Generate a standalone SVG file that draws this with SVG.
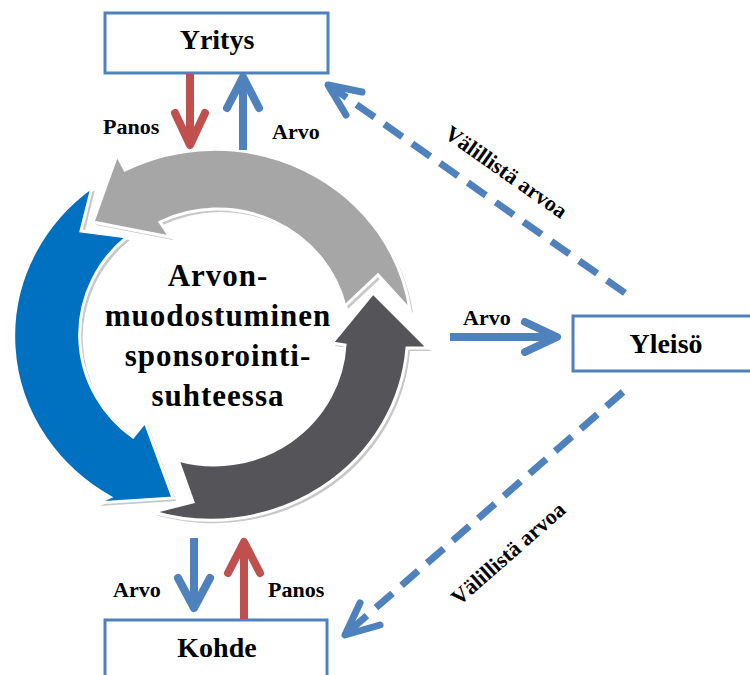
<svg xmlns="http://www.w3.org/2000/svg" xmlns:xlink="http://www.w3.org/1999/xlink" width="750" height="675" viewBox="0 0 750 675">
<style>
text{font-family:"Liberation Serif","Times New Roman",serif;font-weight:bold;fill:#000}
.box{fill:#fff;stroke:#4f81bd;stroke-width:3}
.lbl{font-size:22px}
.node{font-size:28px;text-anchor:middle}
.shaft{fill:none;stroke-width:8;stroke-linecap:butt}
.head{fill:none;stroke-width:8;stroke-linecap:round;stroke-linejoin:round}
.blue{stroke:#4f81bd}
.red{stroke:#c0504d}
.dash{fill:none;stroke:#4f81bd;stroke-width:7;stroke-dasharray:22 12}
.dhead{fill:none;stroke:#4f81bd;stroke-width:7;stroke-linecap:round;stroke-linejoin:round}
.sh{fill:#c8c8c8}
.arr{stroke:#fff;stroke-width:3;stroke-linejoin:miter}
</style>
<defs>
<path id="pGray" d="M410,310 A197,187 0 0 0 125,170 L117,155 L93,222 L170,237 L160,222 A131,127 0 0 1 345,306 L378,275 Z"/>
<path id="pBlue" d="M92,187 A197,187 0 0 0 110,497 L97,503 L173,498 L145,422 L133,437 A131,127 0 0 1 127,237 L81,231 Z"/>
<path id="pDark" d="M153,512 A197,187 0 0 0 407,348 L428,348 L373,293 L332,343 L345,345 A131,127 0 0 1 178,460 L193,502 Z"/>
</defs>
<g id="cycle">
<use xlink:href="#pGray" class="sh" transform="translate(3,3)"/>
<use xlink:href="#pBlue" class="sh" transform="translate(3,3)"/>
<use xlink:href="#pDark" class="sh" transform="translate(3,3)"/>
<use xlink:href="#pGray" class="arr" fill="#a6a6a6"/>
<use xlink:href="#pBlue" class="arr" fill="#0070c0"/>
<use xlink:href="#pDark" class="arr" fill="#555459"/>
<text x="218" y="286" font-size="31" letter-spacing="1" text-anchor="middle">Arvon-</text>
<text x="218" y="326" font-size="31" letter-spacing="1" text-anchor="middle">muodostuminen</text>
<text x="218" y="366" font-size="31" letter-spacing="1" text-anchor="middle">sponsorointi-</text>
<text x="218" y="406" font-size="31" letter-spacing="1" text-anchor="middle">suhteessa</text>
</g>
<g id="yritys">
<rect class="box" x="105" y="13" width="223" height="60"/>
<text class="node" x="217" y="49">Yritys</text>
</g>
<g id="yleiso">
<rect class="box" x="573" y="316" width="190" height="55"/>
<text class="node" x="666" y="353">Yleisö</text>
</g>
<g id="kohde">
<rect class="box" x="105" y="620" width="222" height="70"/>
<text class="node" x="217" y="657">Kohde</text>
</g>
<g id="connectors">
<path class="shaft red" d="M190,74 V142"/>
<path class="head red" d="M175,113 L190,145 L205,113"/>
<path class="shaft blue" d="M243,150 V80"/>
<path class="head blue" d="M227,108 L243,77 L259,108"/>
<path class="shaft blue" d="M194,538 V605"/>
<path class="head blue" d="M178,578 L194,608 L210,578"/>
<path class="shaft red" d="M244,619 V545"/>
<path class="head red" d="M228,573 L244,542 L260,573"/>
<path class="shaft blue" d="M450,337 H554"/>
<path class="head blue" d="M525,322 L557,337 L525,352"/>
<path class="dash" d="M625,293 L330,86"/>
<path class="dhead" d="M362,92 L328,85 L346,115"/>
<path class="dash" d="M623,392 L347,633"/>
<path class="dhead" d="M360,603 L345,635 L380,625"/>
<text class="lbl" x="103" y="134">Panos</text>
<text class="lbl" x="272" y="139">Arvo</text>
<text class="lbl" x="113" y="597">Arvo</text>
<text class="lbl" x="268" y="597">Panos</text>
<text class="lbl" x="463" y="325">Arvo</text>
<text class="lbl" text-anchor="middle" transform="translate(502,178) rotate(35)">Välillistä arvoa</text>
<text class="lbl" text-anchor="middle" transform="translate(513,559) rotate(-41.2)">Välillistä arvoa</text>
</g>
</svg>
